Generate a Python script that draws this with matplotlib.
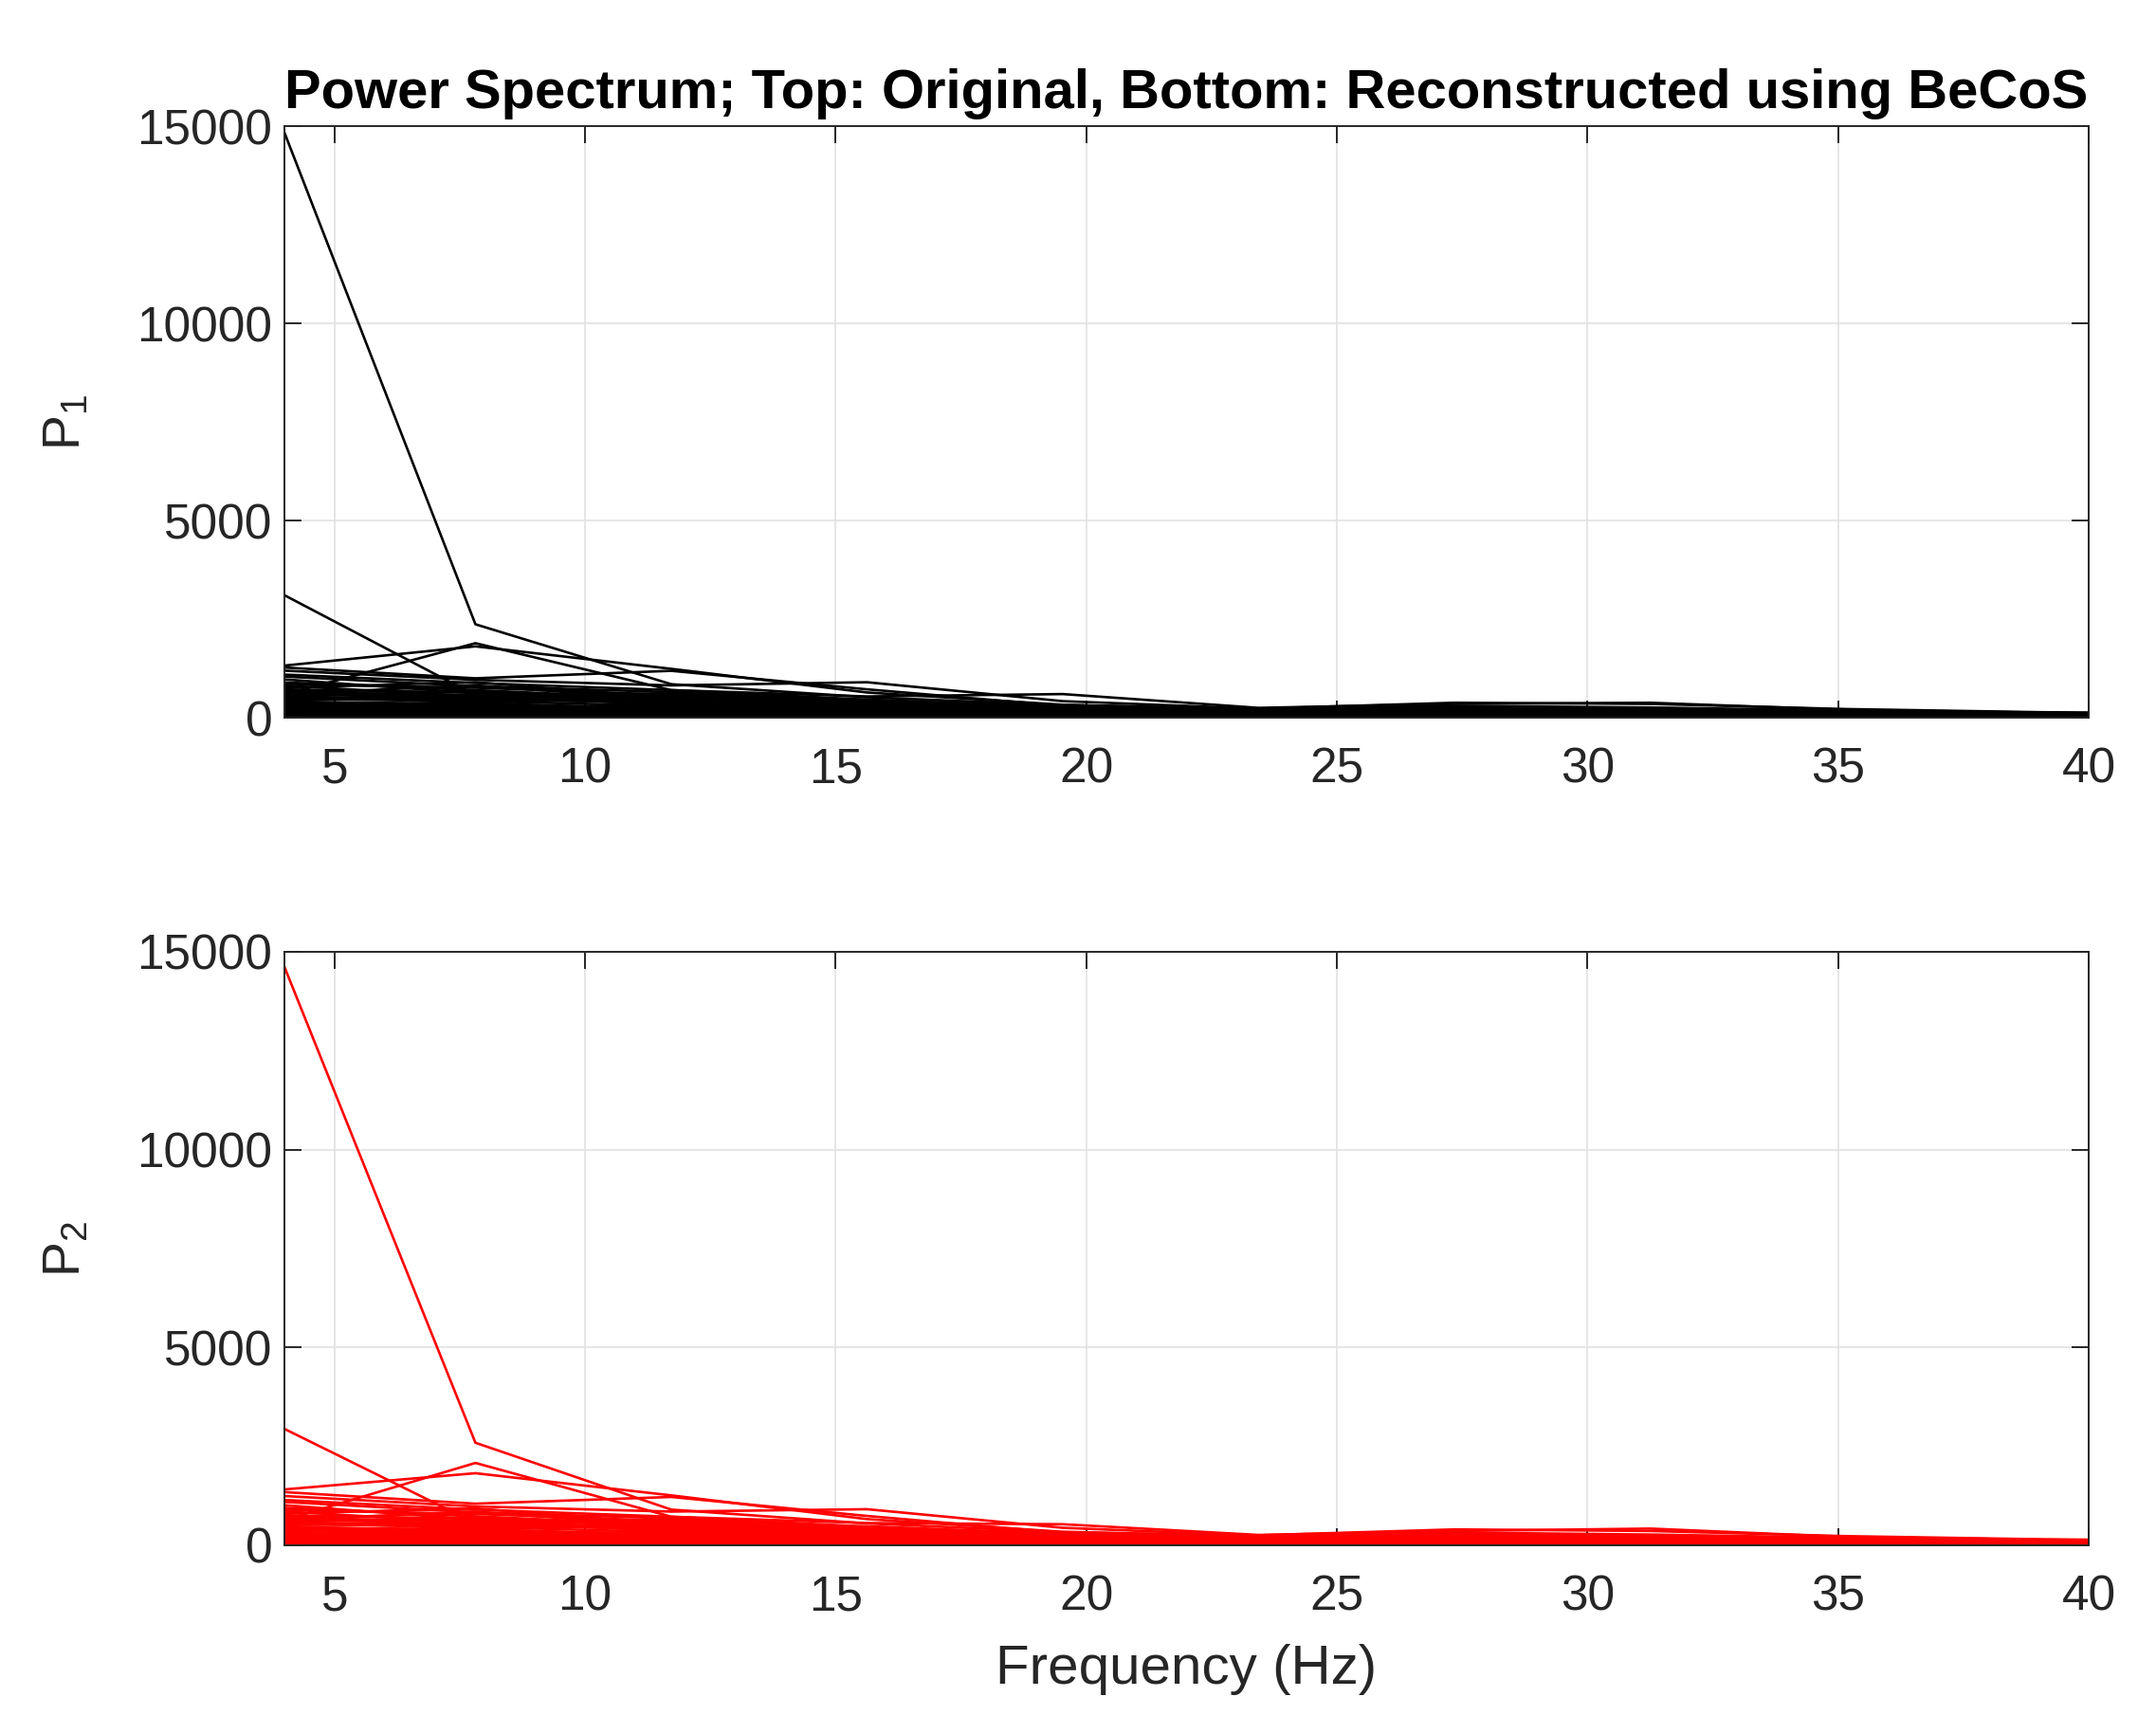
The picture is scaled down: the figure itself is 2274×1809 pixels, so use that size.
import matplotlib
matplotlib.use("Agg")
import matplotlib.pyplot as plt

# frequency bins (Hz), spacing 250/64
freqs = [3.906, 7.812, 11.719, 15.625, 19.531, 23.438, 27.344, 31.25, 35.156, 39.062, 42.969]

# --- original power spectrum (P1), one row per channel ---
p1_strong = [
    [15150, 2370, 850, 520, 320, 230, 250, 220, 160, 110, 90],
    [3170, 570, 420, 330, 240, 180, 200, 170, 130, 100, 80],
    [560, 1890, 700, 460, 280, 200, 230, 190, 150, 100, 80],
    [1310, 1810, 1240, 640, 330, 210, 260, 240, 170, 110, 90],
    [1280, 1000, 1190, 720, 300, 190, 220, 200, 140, 100, 80],
    [1200, 960, 820, 900, 420, 230, 300, 260, 180, 120, 90],
    [1100, 880, 700, 540, 600, 250, 350, 380, 200, 130, 100],
    [1050, 800, 650, 420, 280, 230, 380, 350, 220, 140, 100],
]
p1_mid = [
    [980, 620, 560, 420, 250, 170, 190, 160, 120, 90, 70],
    [900, 700, 480, 380, 220, 150, 170, 150, 110, 80, 60],
    [820, 540, 620, 350, 200, 140, 160, 180, 120, 80, 60],
    [760, 900, 500, 300, 190, 130, 150, 140, 100, 70, 60],
    [700, 450, 400, 460, 240, 160, 200, 170, 110, 80, 60],
    [650, 580, 380, 280, 170, 120, 140, 130, 90, 70, 50],
    [600, 820, 450, 330, 210, 150, 180, 200, 130, 90, 70],
    [560, 380, 520, 300, 180, 130, 150, 130, 90, 70, 50],
    [540, 680, 420, 380, 260, 180, 210, 190, 130, 90, 70],
    [520, 480, 600, 400, 230, 170, 200, 220, 140, 100, 70],
    [500, 560, 340, 290, 200, 160, 180, 170, 120, 80, 60],
    [620, 520, 440, 250, 210, 170, 230, 200, 140, 90, 70],
    [720, 640, 300, 320, 270, 190, 220, 230, 150, 100, 70],
    [860, 760, 580, 310, 200, 150, 170, 160, 120, 80, 60],
]
p1_low = [
    [480, 420, 300, 230, 170, 150, 170, 160, 120, 90, 70],
    [450, 500, 350, 260, 180, 160, 190, 180, 130, 90, 80],
    [420, 300, 280, 200, 160, 140, 160, 150, 120, 80, 70],
    [400, 360, 240, 180, 150, 130, 150, 140, 110, 80, 70],
    [370, 280, 260, 220, 160, 150, 140, 130, 110, 80, 60],
    [340, 320, 200, 160, 140, 120, 130, 140, 100, 70, 60],
    [310, 250, 220, 150, 130, 130, 150, 130, 100, 70, 60],
    [290, 380, 180, 140, 120, 110, 120, 120, 90, 70, 60],
    [260, 220, 190, 170, 140, 120, 140, 130, 100, 70, 60],
    [240, 200, 150, 120, 110, 100, 110, 110, 90, 60, 50],
    [220, 260, 170, 110, 100, 100, 120, 100, 80, 60, 50],
    [200, 160, 140, 130, 110, 110, 100, 100, 80, 60, 50],
    [180, 190, 120, 100, 90, 90, 100, 90, 80, 60, 50],
    [160, 140, 130, 90, 90, 80, 90, 90, 70, 50, 40],
    [140, 120, 100, 80, 80, 70, 80, 80, 60, 50, 40],
    [120, 150, 90, 70, 80, 70, 70, 70, 60, 40, 30],
    [100, 90, 80, 60, 60, 60, 70, 60, 50, 40, 30],
    [80, 110, 70, 50, 60, 50, 60, 50, 40, 30, 30],
    [60, 70, 60, 40, 40, 40, 50, 40, 40, 30, 20],
    [40, 50, 40, 30, 30, 30, 40, 30, 30, 20, 20],
    [30, 40, 30, 20, 20, 20, 30, 20, 20, 20, 10],
    [20, 30, 20, 20, 10, 10, 20, 10, 10, 10, 10],
]

# --- reconstructed power spectrum (P2) ---
p2_strong = [
    [14920, 2590, 900, 550, 330, 240, 260, 230, 160, 110, 90],
    [3000, 560, 430, 340, 250, 190, 210, 180, 140, 100, 80],
    [600, 2080, 720, 470, 290, 210, 240, 200, 150, 100, 80],
    [1400, 1820, 1260, 660, 340, 220, 270, 250, 170, 110, 90],
    [1350, 1050, 1220, 740, 310, 200, 230, 210, 150, 100, 80],
    [1250, 980, 850, 910, 440, 240, 320, 270, 190, 120, 90],
    [1150, 900, 720, 560, 530, 260, 360, 420, 210, 140, 100],
    [1100, 830, 680, 440, 300, 250, 400, 360, 230, 150, 110],
]
p2_mid = [
    [1020, 650, 590, 440, 270, 180, 200, 170, 130, 90, 70],
    [950, 730, 510, 400, 240, 160, 190, 160, 120, 80, 60],
    [860, 570, 650, 370, 220, 150, 170, 200, 130, 90, 60],
    [800, 930, 530, 320, 200, 140, 160, 150, 110, 80, 60],
    [740, 480, 430, 480, 260, 170, 210, 180, 120, 90, 60],
    [690, 610, 410, 300, 190, 130, 150, 140, 100, 70, 50],
    [640, 850, 480, 350, 230, 160, 200, 210, 140, 100, 70],
    [600, 410, 550, 320, 200, 140, 160, 140, 100, 70, 50],
    [580, 700, 450, 400, 270, 190, 220, 200, 140, 90, 70],
    [560, 510, 630, 420, 240, 180, 210, 230, 150, 100, 70],
    [540, 590, 370, 310, 210, 170, 190, 180, 130, 90, 60],
    [660, 550, 470, 270, 220, 180, 240, 210, 150, 100, 70],
    [760, 670, 330, 340, 280, 200, 230, 240, 160, 100, 70],
    [900, 790, 610, 330, 210, 160, 180, 170, 130, 90, 60],
]
p2_low = [
    [540, 460, 330, 250, 180, 160, 180, 170, 130, 90, 70],
    [510, 540, 380, 280, 190, 170, 200, 190, 140, 100, 80],
    [480, 340, 310, 220, 170, 150, 170, 160, 130, 90, 70],
    [450, 400, 270, 200, 160, 140, 160, 150, 120, 80, 70],
    [420, 320, 290, 240, 170, 160, 150, 140, 120, 80, 60],
    [390, 360, 230, 180, 150, 130, 140, 150, 110, 70, 60],
    [360, 290, 250, 170, 140, 140, 160, 140, 110, 70, 60],
    [330, 420, 210, 160, 130, 120, 130, 130, 100, 70, 60],
    [300, 260, 220, 190, 150, 130, 150, 140, 110, 70, 60],
    [270, 240, 180, 140, 120, 110, 120, 120, 100, 60, 50],
    [250, 300, 200, 130, 110, 110, 130, 110, 90, 60, 50],
    [230, 190, 170, 150, 120, 120, 110, 110, 90, 60, 50],
    [210, 220, 150, 120, 100, 100, 110, 100, 90, 60, 50],
    [190, 170, 160, 110, 100, 90, 100, 100, 80, 50, 40],
    [170, 150, 130, 100, 90, 80, 90, 90, 70, 50, 40],
    [150, 180, 120, 90, 90, 80, 80, 80, 70, 40, 30],
    [130, 120, 110, 80, 70, 70, 80, 70, 60, 40, 30],
    [110, 140, 90, 70, 70, 60, 70, 60, 50, 30, 30],
    [90, 100, 80, 60, 50, 50, 60, 50, 50, 30, 20],
    [70, 80, 60, 50, 40, 40, 50, 40, 40, 20, 20],
    [50, 60, 50, 30, 30, 30, 40, 30, 30, 20, 10],
    [30, 40, 30, 20, 20, 20, 30, 20, 20, 10, 10],
]

x_ticks = [5, 10, 15, 20, 25, 30, 35, 40]
y_ticks = [0, 5000, 10000, 15000]
title_text = "Power Spectrum; Top: Original, Bottom: Reconstructed using BeCoS"

plt.rcParams['font.family'] = ['Liberation Sans', 'DejaVu Sans']
plt.rcParams['mathtext.fontset'] = 'custom'
plt.rcParams['mathtext.rm'] = 'Liberation Sans'
plt.rcParams['mathtext.it'] = 'Liberation Sans'
plt.rcParams['mathtext.bf'] = 'Liberation Sans:bold'

AX_COLOR = '#262626'

fig = plt.figure(figsize=(22.74, 18.09), dpi=100)
ax1 = fig.add_axes([0.1319, 0.5815, 0.8369, 0.3449])
ax2 = fig.add_axes([0.1319, 0.0990, 0.8369, 0.3460])


def style_axes(ax):
    ax.set_xlim(4, 40)
    ax.set_ylim(0, 15000)
    ax.set_xticks(x_ticks)
    ax.set_yticks(y_ticks)
    ax.set_yticklabels([str(v) for v in y_ticks])
    ax.grid(True, color='#e2e2e2', linewidth=1.2, zorder=0)
    ax.set_axisbelow(True)
    ax.tick_params(direction='in', length=13, width=1.4, color=AX_COLOR,
                   top=True, right=True, labelsize=37, labelcolor=AX_COLOR)
    ax.tick_params(axis='x', pad=22)
    ax.tick_params(axis='y', pad=9)
    for sp in ax.spines.values():
        sp.set_color(AX_COLOR)
        sp.set_linewidth(1.4)
        sp.set_zorder(5)


for ax, groups, color in [(ax1, [p1_strong, p1_mid, p1_low], 'k'),
                          (ax2, [p2_strong, p2_mid, p2_low], '#ff0000')]:
    for group in groups:
        for row in group:
            ax.plot(freqs, row, color=color, linewidth=1.9, zorder=2)
    style_axes(ax)

ax1.set_ylabel('P$_1$', fontsize=40, color=AX_COLOR)
ax2.set_ylabel('P$_2$', fontsize=40, color=AX_COLOR)
ax1.yaxis.set_label_coords(-0.107, 0.5)
ax2.yaxis.set_label_coords(-0.107, 0.5)
ax2.set_xlabel('Frequency (Hz)', fontsize=42, color=AX_COLOR)
ax2.xaxis.set_label_coords(0.5, -0.166)

# title sized to span the axes width like the original
title = ax1.set_title(title_text, fontsize=36, fontweight='bold', color='black', pad=14)
fig.canvas.draw()
renderer = fig.canvas.get_renderer()
tw = title.get_window_extent(renderer).width
aw = ax1.get_window_extent(renderer).width
title.set_fontsize(36 * aw / tw)

fig.savefig('out.png', dpi=100, facecolor='white')
